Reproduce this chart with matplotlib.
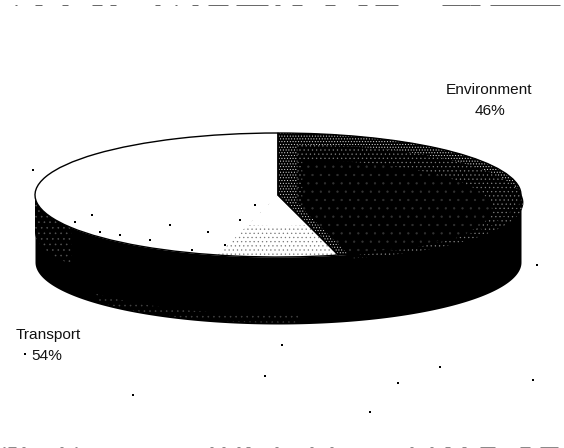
import numpy as np
from matplotlib import pyplot as plt

W, H = 564, 448
# ellipse of the pie top, in pixels of the picture
CX, CY, RX, RY = 278, 195, 243, 62
DEPTH = 67 / RY

labels = ["Environment", "Transport"]
shares = [46, 54]
# the stippled part of the white slice sits right after the environment slice
stipple_shares = [46, 8, 46]

# stray scan specks, pixels
speck_x = [33, 537, 282, 265, 533, 440, 398, 370, 133, 25, 92, 75, 100, 120, 150, 170, 192, 208, 225, 240, 255]
speck_y = [170, 265, 345, 376, 380, 367, 383, 412, 395, 354, 215, 222, 232, 235, 240, 225, 250, 232, 245, 220, 205]

# remains of cut-off text along the top and bottom edges: start, end in pixels
top_x0 = [15, 35, 62, 92, 110, 155, 175, 192, 208, 236, 275, 292, 325, 358, 375, 442, 470, 490]
top_x1 = [17, 42, 68, 102, 116, 160, 177, 198, 228, 268, 280, 302, 335, 367, 398, 470, 480, 560]
bottom_x0 = [3, 8, 22, 60, 75, 210, 222, 237, 246, 275, 310, 330, 410, 430, 445, 462, 480, 520, 540]
bottom_x1 = [5, 16, 25, 63, 77, 213, 225, 240, 250, 278, 313, 333, 413, 433, 450, 466, 495, 530, 558]


def to_x(px):
    return (np.asarray(px, dtype=float) - CX) / RX


def to_y(py):
    return (CY - np.asarray(py, dtype=float)) / RY


def layer(values, colors, zorder, radius=1, center=(0, 0), **props):
    # one more pie on the same ellipse, all slices drawn the same way round
    props.setdefault("linewidth", 0)
    parts, _ = ax.pie(values, startangle=90, counterclock=False, colors=colors, radius=radius,
                      center=center, wedgeprops=props)
    for p in parts:
        p.set_zorder(zorder)
    return parts


plt.rcParams["hatch.linewidth"] = 0.4
fig = plt.figure(figsize=(W / 100, H / 100), dpi=100)
ax = fig.add_axes([0, 0, 1, 1])

# side wall first, so the top covers its upper edge
theta = np.radians(np.linspace(180, 360, 200))
wall_x = np.cos(theta)
wall_y = np.sin(theta)
ax.fill_between(wall_x, wall_y - DEPTH, wall_y, color="black", lw=0, zorder=1)

# speckled patches on the left and along the bottom of the wall
left = wall_x < -0.85
ax.fill_between(wall_x[left], wall_y[left] - DEPTH * 0.55, wall_y[left], facecolor="black",
                edgecolor="#555555", hatch="...", lw=0, zorder=2)
low = (wall_x > -0.75) & (wall_x < 0.1)
ax.fill_between(wall_x[low], wall_y[low] - DEPTH * 0.98, wall_y[low] - DEPTH * 0.86, facecolor="black",
                edgecolor="#444444", hatch="...", lw=0, zorder=2)

top = layer(shares, ["black", "white"], 3)

# environment slice gets darker from the rim inwards
rim = layer(shares, ["black", "none"], 3.1, edgecolor="#e0e0e0")
rim[0].set_hatch("......")
rim[1].set_visible(False)
mid = layer(shares, ["black", "none"], 3.2, radius=0.93, center=(0.08, -0.12), edgecolor="#808080")
mid[0].set_hatch("....")
mid[0].set_clip_path(top[0])
mid[1].set_visible(False)
core = layer(shares, ["black", "none"], 3.3, radius=0.78, center=(0.1, -0.22), edgecolor="#333333")
core[0].set_hatch("..")
core[0].set_clip_path(top[0])
core[1].set_visible(False)

# stipple in the white slice, only the outer part of the sector
stip = layer(stipple_shares, ["none", "none", "none"], 3.1, edgecolor="#777777")
stip[1].set_hatch("....")
stip[0].set_visible(False)
stip[2].set_visible(False)
clear = layer(stipple_shares, ["none", "white", "none"], 3.2, radius=0.5)
clear[0].set_visible(False)
clear[2].set_visible(False)

# outline on top of all the layers
layer(shares, ["none", "none"], 5, edgecolor="black", linewidth=1.0)

ax.scatter(to_x(speck_x), to_y(speck_y), s=1.2, c="black", marker="s", lw=0, zorder=6)
ax.hlines(np.full(len(top_x0), to_y(5)), to_x(top_x0), to_x(top_x1), color="#666666", lw=0.7, zorder=6)
ax.hlines(np.full(len(bottom_x0), to_y(447)), to_x(bottom_x0), to_x(bottom_x1), color="#888888", lw=0.7, zorder=6)

ax.set_aspect("auto")
ax.set_xlim(to_x(0), to_x(W))
ax.set_ylim(to_y(H), to_y(0))
ax.axis("off")

txt = dict(family="Liberation Sans", fontsize=11.1, color="#111111", ha="center", va="center", zorder=7)
ax.text(to_x(489), to_y(90), labels[0], **txt)
ax.text(to_x(490), to_y(111), f"{shares[0]}%", **txt)
ax.text(to_x(48), to_y(335), labels[1], **txt)
ax.text(to_x(47), to_y(356), f"{shares[1]}%", **txt)

plt.savefig("out.png", dpi=100)
